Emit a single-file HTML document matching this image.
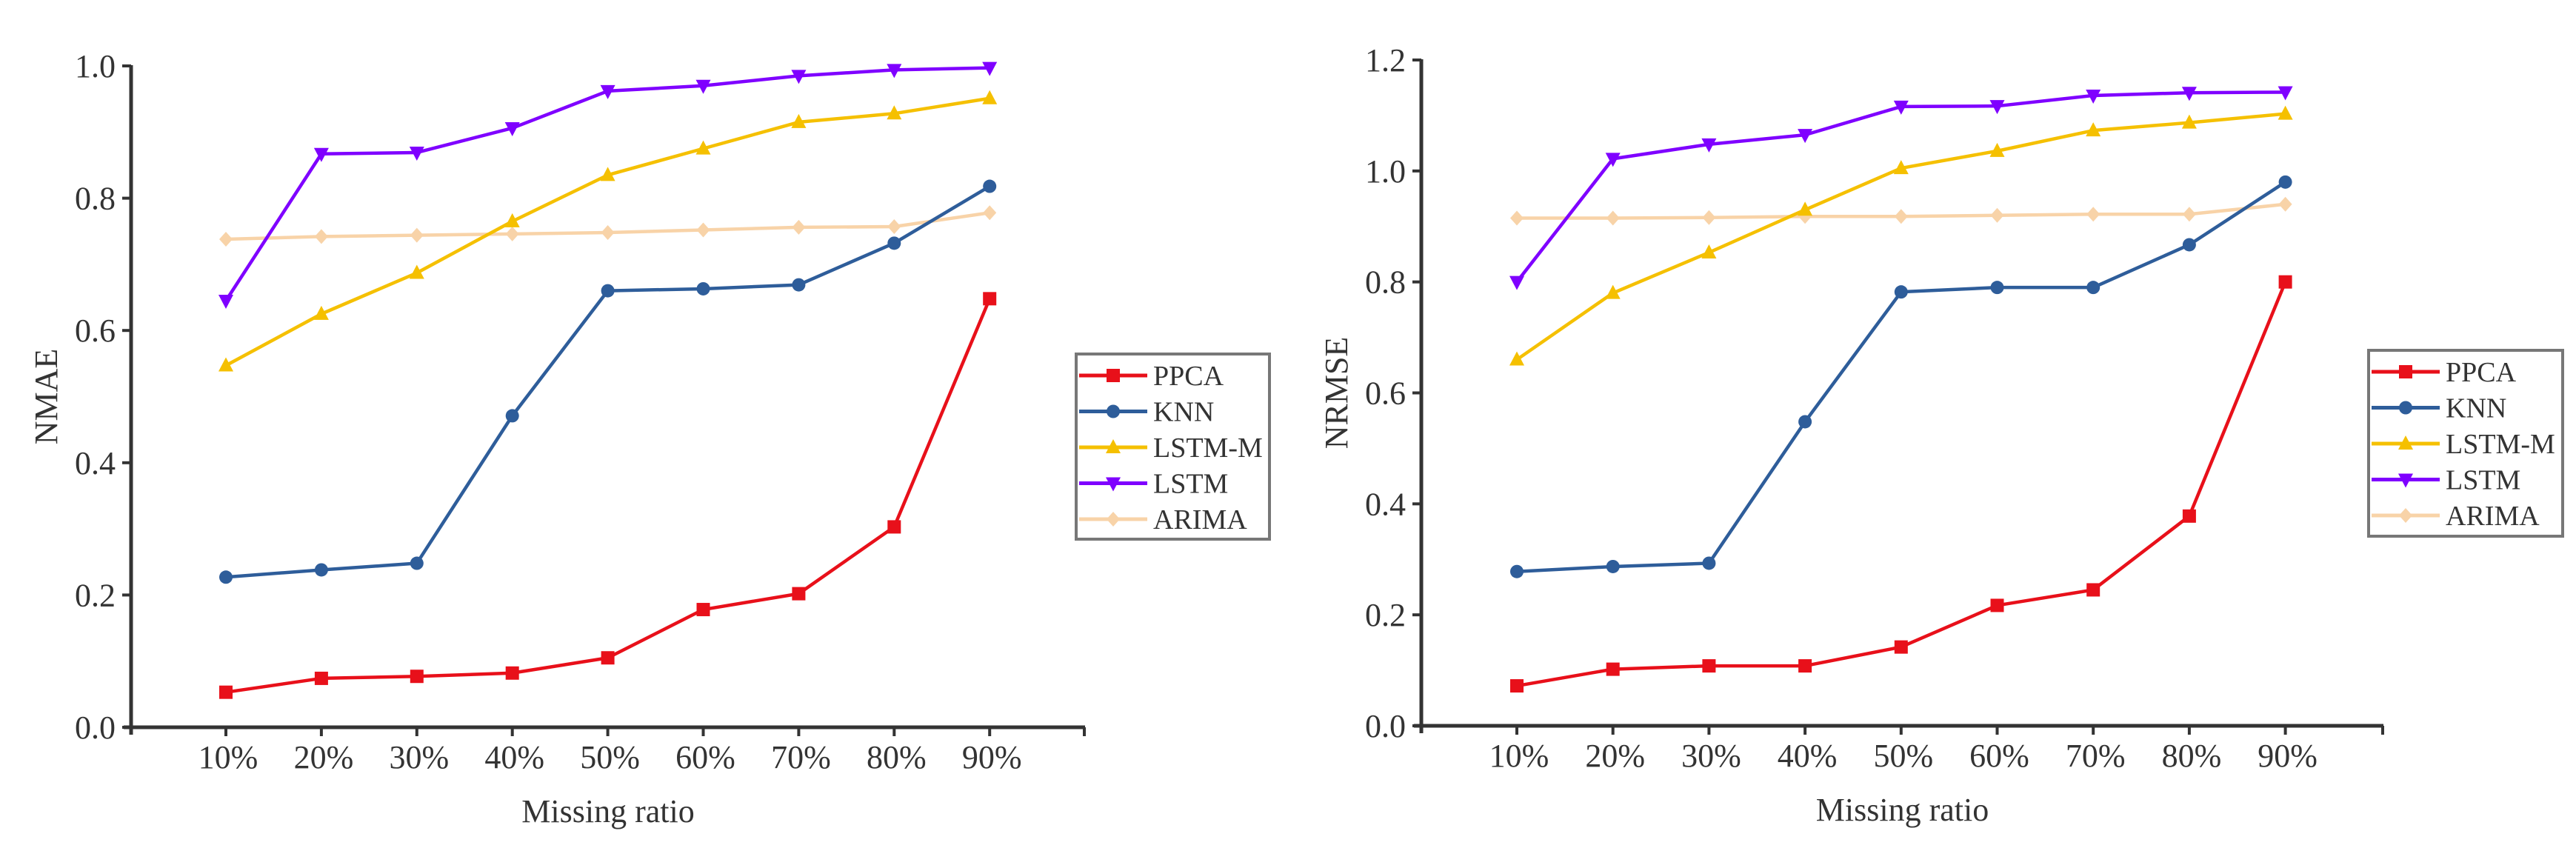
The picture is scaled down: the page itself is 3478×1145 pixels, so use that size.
<!DOCTYPE html>
<html><head><meta charset="utf-8">
<style>
html,body{margin:0;padding:0;background:#fff;}
svg{display:block;}
text{font-family:"Liberation Serif",serif;fill:#333;}
</style></head>
<body>
<svg id="chart" width="3478" height="1145" viewBox="0 0 3478 1145" xmlns="http://www.w3.org/2000/svg"></svg>
<script>
const categories = ["10%","20%","30%","40%","50%","60%","70%","80%","90%"];
const seriesNames = ["PPCA","KNN","LSTM-M","LSTM","ARIMA"];
const nmaePPCA = [0.053,0.074,0.077,0.082,0.105,0.178,0.202,0.303,0.648];
const nmaeKNN = [0.227,0.238,0.248,0.471,0.660,0.663,0.669,0.732,0.818];
const nmaeLSTMM = [0.547,0.625,0.687,0.765,0.835,0.875,0.915,0.928,0.951];
const nmaeLSTM = [0.645,0.867,0.869,0.906,0.962,0.970,0.985,0.994,0.997];
const nmaeARIMA = [0.738,0.742,0.744,0.746,0.748,0.752,0.756,0.757,0.778];
const nrmsePPCA = [0.072,0.102,0.108,0.108,0.142,0.217,0.245,0.378,0.800];
const nrmseKNN = [0.278,0.287,0.293,0.548,0.782,0.790,0.790,0.867,0.980];
const nrmseLSTMM = [0.660,0.780,0.853,0.930,1.005,1.036,1.073,1.087,1.103];
const nrmseLSTM = [0.800,1.022,1.048,1.065,1.116,1.117,1.136,1.141,1.142];
const nrmseARIMA = [0.915,0.915,0.916,0.918,0.918,0.920,0.922,0.922,0.940];
const nmaeTicks = ["0.0","0.2","0.4","0.6","0.8","1.0"];
const nrmseTicks = ["0.0","0.2","0.4","0.6","0.8","1.0","1.2"];

const NS = "http://www.w3.org/2000/svg";
const svg = document.getElementById('chart');
const colors = ["#e8101a","#2e5d9a","#f5c000","#7f00ff","#f8d3a8"];
const markerTypes = ["square","circle","tri-up","tri-down","diamond"];

function mk(tag, attrs, parent){
  const e = document.createElementNS(NS, tag);
  for (const k in attrs) e.setAttribute(k, attrs[k]);
  (parent||svg).appendChild(e);
  return e;
}
function marker(type, x, y, color, g){
  const s = 9;
  let e;
  if (type==="square") e = mk('rect',{x:x-s,y:y-s,width:2*s,height:2*s,fill:color},g);
  else if (type==="circle") e = mk('circle',{cx:x,cy:y,r:s,fill:color},g);
  else if (type==="tri-up") e = mk('polygon',{points:`${x},${y-s-2} ${x-s-1},${y+s-1} ${x+s+1},${y+s-1}`,fill:color},g);
  else if (type==="tri-down") e = mk('polygon',{points:`${x},${y+s+2} ${x-s-1},${y-s+1} ${x+s+1},${y-s+1}`,fill:color},g);
  else e = mk('polygon',{points:`${x},${y-s-1} ${x+s},${y} ${x},${y+s+1} ${x-s},${y}`,fill:color},g);
  return e;
}

function drawChart(cfg){
  const {axX, axTop, axBottom, axRight, x0, dx, yMax, ticks, series, yTitle, legend, prefix} = cfg;
  const xS = i => x0 + i*dx;
  const yS = v => axBottom - v/yMax*(axBottom-axTop);
  const g = mk('g',{});
  
  
  // axes
  const ya = mk('line',{x1:axX,y1:axTop-1,x2:axX,y2:axBottom+10,stroke:"#333","stroke-width":5},g);
  
  
  const xa = mk('line',{x1:axX-10,y1:axBottom,x2:axRight,y2:axBottom,stroke:"#333","stroke-width":5},g);
  
  
  mk('line',{x1:axRight-1,y1:axBottom,x2:axRight-1,y2:axBottom+12,stroke:"#333","stroke-width":4},g);
  ticks.forEach((t,i)=>{
    const v = parseFloat(t);
    const y = yS(v);
    mk('line',{x1:axX-12,y1:y,x2:axX,y2:y,stroke:"#333","stroke-width":4},g);
    const tx = mk('text',{x:axX-21,y:y+15,"text-anchor":"end","font-size":44},g);
    tx.textContent = t;
    
    
  });
  categories.forEach((c,i)=>{
    const x = xS(i);
    mk('line',{x1:x,y1:axBottom,x2:x,y2:axBottom+12,stroke:"#333","stroke-width":4},g);
    const tx = mk('text',{x:x+3,y:axBottom+55,"text-anchor":"middle","font-size":44},g);
    tx.textContent = c;
    
    
  });
  const xt = mk('text',{x:(axX+axRight)/2,y:axBottom+128,"text-anchor":"middle","font-size":44},g);
  xt.textContent = "Missing ratio";
  
  
  const cy = (axTop+axBottom)/2;
  const yt = mk('text',{x:0,y:0,"text-anchor":"middle","font-size":44,transform:`translate(${axX-100},${cy}) rotate(-90)`},g);
  yt.textContent = yTitle;
  
  
  // series (draw ARIMA first so it sits beneath)
  [4,0,1,2,3].forEach(si=>{
    const vals = series[si];
    const sg = mk('g',{},g);
    
    
    const pts = vals.map((v,i)=>xS(i)+","+yS(v)).join(" ");
    mk('polyline',{points:pts,fill:"none",stroke:colors[si],"stroke-width":4.5,"stroke-linejoin":"round"},sg);
    vals.forEach((v,i)=>{
      const m = marker(markerTypes[si], xS(i), yS(v), colors[si], sg);
      
      
    });
  });
  // legend
  const lg = mk('g',{},g);
  
  
  mk('rect',{x:legend.x,y:legend.y,width:legend.w,height:legend.h,fill:"#fff",stroke:"#777","stroke-width":4},lg);
  seriesNames.forEach((n,i)=>{
    const ly = legend.y + 29 + i*48.5;
    const eg = mk('g',{},lg);
    
    
    mk('line',{x1:legend.x+4,y1:ly,x2:legend.x+96,y2:ly,stroke:colors[i],"stroke-width":5},eg);
    marker(markerTypes[i], legend.x+50, ly, colors[i], eg);
    const t = mk('text',{x:legend.x+104,y:ly+13,"font-size":38},eg);
    t.textContent = n;
  });
}

drawChart({prefix:"nmae", axX:177, axTop:89, axBottom:982, axRight:1465, x0:305, dx:128.9, yMax:1.0,
  ticks:nmaeTicks, series:[nmaePPCA,nmaeKNN,nmaeLSTMM,nmaeLSTM,nmaeARIMA], yTitle:"NMAE",
  legend:{x:1453,y:478,w:261,h:250}});
drawChart({prefix:"nrmse", axX:1919, axTop:81, axBottom:980, axRight:3218, x0:2048, dx:129.7, yMax:1.2,
  ticks:nrmseTicks, series:[nrmsePPCA,nrmseKNN,nrmseLSTMM,nrmseLSTM,nrmseARIMA], yTitle:"NRMSE",
  legend:{x:3198,y:473,w:262,h:251}});
</script>
</body></html>
